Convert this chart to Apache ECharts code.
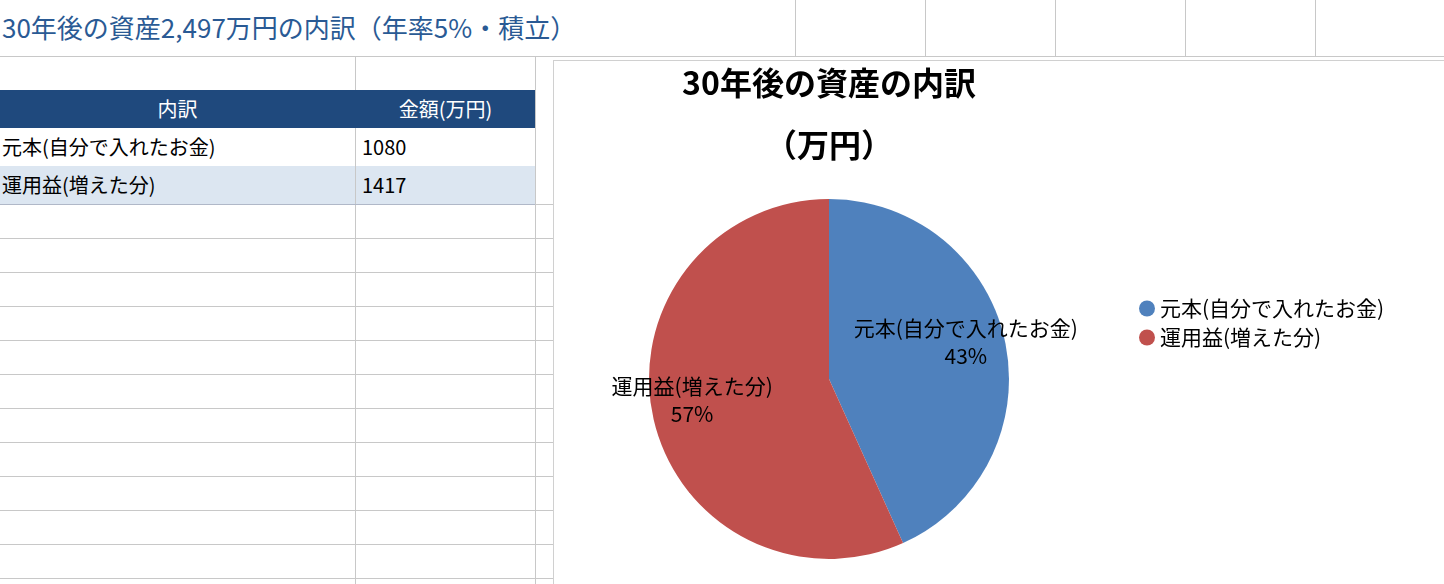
<!DOCTYPE html>
<html><head><meta charset="utf-8">
<script src="https://cdn.jsdelivr.net/npm/echarts@6/dist/echarts.min.js"></script>
<style>
body{margin:0;width:1444px;height:584px;overflow:hidden;background:#fff;font-family:"Noto Sans CJK JP",sans-serif;position:relative}
.v{position:absolute;top:0;width:1px;background:#c8c8c8}
.h{position:absolute;left:0;height:1px;background:#c8c8c8}
.c{position:absolute;font-size:20px;line-height:38px;white-space:nowrap}
#main{position:absolute;left:553px;top:60px;width:891px;height:524px;background:#fff;border-left:1px solid #d0d0d0;border-top:1px solid #d0d0d0}
</style></head><body>
<div id="sheet"></div>
<div id="main"></div>
<script>
var sheetTitle = '30年後の資産2,497万円の内訳（年率5%・積立）';
var headers = ['内訳', '金額(万円)'];
var categories = ['元本(自分で入れたお金)', '運用益(増えた分)'];
var amounts = [1080, 1417];
var chartTitle = '30年後の資産の内訳\n（万円）';

// 表の部分
var s = document.getElementById('sheet'), html = '';
[355, 535, 795, 925, 1055, 1185, 1315].forEach(function (x) {
  html += '<div class="v" style="left:' + x + 'px;height:' + (x < 700 ? 584 : 56) + 'px"></div>';
});
html += '<div class="h" style="top:56px;width:1444px"></div>';
for (var y = 204; y < 584; y += 34) html += '<div class="h" style="top:' + y + 'px;width:553px"></div>';
html += '<div style="position:absolute;left:0;top:0;width:794px;height:56px;background:#fff"></div>';
html += '<div class="c" style="left:2px;top:8px;font-size:26px;color:#2a5a94">' + sheetTitle + '</div>';
html += '<div style="position:absolute;left:0;top:90px;width:535px;height:38px;background:#1f497d"></div>';
html += '<div class="c" style="left:0;width:355px;top:90px;text-align:center;color:#fff">' + headers[0] + '</div>';
html += '<div class="c" style="left:356px;width:179px;top:90px;text-align:center;color:#fff">' + headers[1] + '</div>';
html += '<div style="position:absolute;left:0;top:128px;width:535px;height:38px;border-bottom:1px solid #c8c8c8"></div>';
html += '<div style="position:absolute;left:0;top:166px;width:535px;height:38px;background:#dce6f1;border-bottom:1px solid #b0b8c8"></div>';
html += '<div style="position:absolute;left:355px;top:128px;width:1px;height:76px;background:#c8c8c8"></div>';
categories.forEach(function (c, i) {
  html += '<div class="c" style="left:2px;top:' + (128 + i * 38) + 'px">' + c + '</div>';
  html += '<div class="c" style="left:362px;top:' + (128 + i * 38) + 'px">' + amounts[i] + '</div>';
});
s.innerHTML = html;

// 円グラフ
var myChart = echarts.init(document.getElementById('main'));
var option = {
  textStyle: { fontFamily: 'Noto Sans CJK JP' },
  color: ['#4f81bd', '#c0504d'],
  title: {
    text: chartTitle, left: 270, top: -14, textAlign: 'center',
    textStyle: { fontSize: 32, fontWeight: 'bold', color: '#000', lineHeight: 62 }
  },
  legend: {
    orient: 'vertical', left: 580, top: 232, icon: 'circle', itemWidth: 16, itemHeight: 16, itemGap: 8,
    textStyle: { fontSize: 21, color: '#000' }
  },
  series: [{
    type: 'pie', center: [275, 318], radius: 180, startAngle: 90,
    data: categories.map(function (c, i) { return { name: c, value: amounts[i] }; }),
    label: {
      position: 'inside', formatter: '{b}\n{d}%', fontSize: 21, color: '#000', lineHeight: 28,
      textBorderWidth: 0
    },
    labelLayout: function (p) {
      var cx = 275, cy = 318;
      var mx = p.labelRect.x + p.labelRect.width / 2, my = p.labelRect.y + p.labelRect.height / 2;
      var k = 140 / Math.sqrt((mx - cx) * (mx - cx) + (my - cy) * (my - cy));
      return { x: cx + (mx - cx) * k, y: cy + (my - cy) * k - 8, align: 'center', verticalAlign: 'middle' };
    },
    percentPrecision: 0,
    itemStyle: { borderWidth: 0 }
  }]
};
myChart.setOption(option);
</script>
</body></html>
